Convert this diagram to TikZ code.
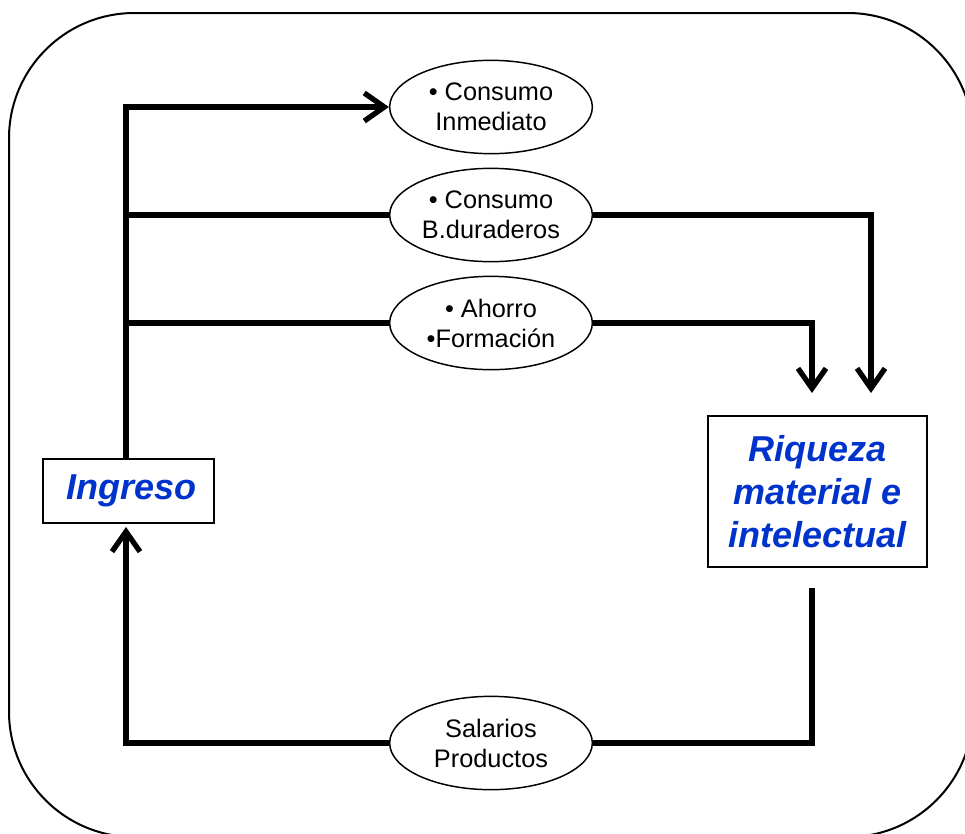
\documentclass[tikz,border=0pt]{standalone}
\usepackage{fontspec}
\setmainfont{Liberation Sans}
\usetikzlibrary{shapes.geometric,arrows.meta}
\definecolor{txtblue}{RGB}{0,51,204}
\begin{document}
\begin{tikzpicture}[x=0.75pt,y=-0.75pt,
  oval/.style={ellipse,draw,line width=1.1pt,inner sep=0pt,minimum width=152pt,minimum height=70pt,align=center,font=\fontsize{19}{22.5}\selectfont},
  bigbox/.style={draw,line width=1.6pt,inner sep=0pt,align=center,text=txtblue,font=\fontsize{27}{32}\selectfont\bfseries\itshape},
  flow/.style={line width=4.2pt},
  tip/.style={-{Straight Barb[length=15pt,width=21pt,line width=4pt]}}
]
\useasboundingbox (0,0) rectangle (965,833);
\begin{scope}
\clip (0,0) rectangle (965,833);
\draw[line width=1.5pt,rounded corners=94pt] (9,13) rectangle (973,837);
\end{scope}

\node[oval] (e1) at (491,107) {• Consumo\\Inmediato};
\node[oval] (e2) at (491,215) {• Consumo\\B.duraderos};
\node[oval] (e3) at (491,323) {• Ahorro\\•Formación};
\node[oval] (e4) at (491,743) {Salarios\\Productos};

\node[bigbox,minimum width=128pt,minimum height=48pt] (ing) at (128.5,491) {\hspace*{5pt}Ingreso};
\node[bigbox,minimum width=164pt,minimum height=113pt] (rq) at (817.5,491.5) {Riqueza\\material e\\intelectual};

\coordinate (t0) at (126,459);
\coordinate (t1) at (126,523);
\coordinate (a2) at (871,393);
\coordinate (a3) at (812,393);
\coordinate (b0) at (812,588);

\draw[flow,tip] (t0) |- (e1.west);
\draw[flow] (t0 |- e2.west) -- (e2.west);
\draw[flow] (t0 |- e3.west) -- (e3.west);
\draw[flow,tip] (e2.east) -| (a2);
\draw[flow,tip] (e3.east) -| (a3);
\draw[flow] (b0) |- (e4.east);
\draw[flow,tip,shorten >=3pt] (e4.west) -| (t1);
\end{tikzpicture}
\end{document}
